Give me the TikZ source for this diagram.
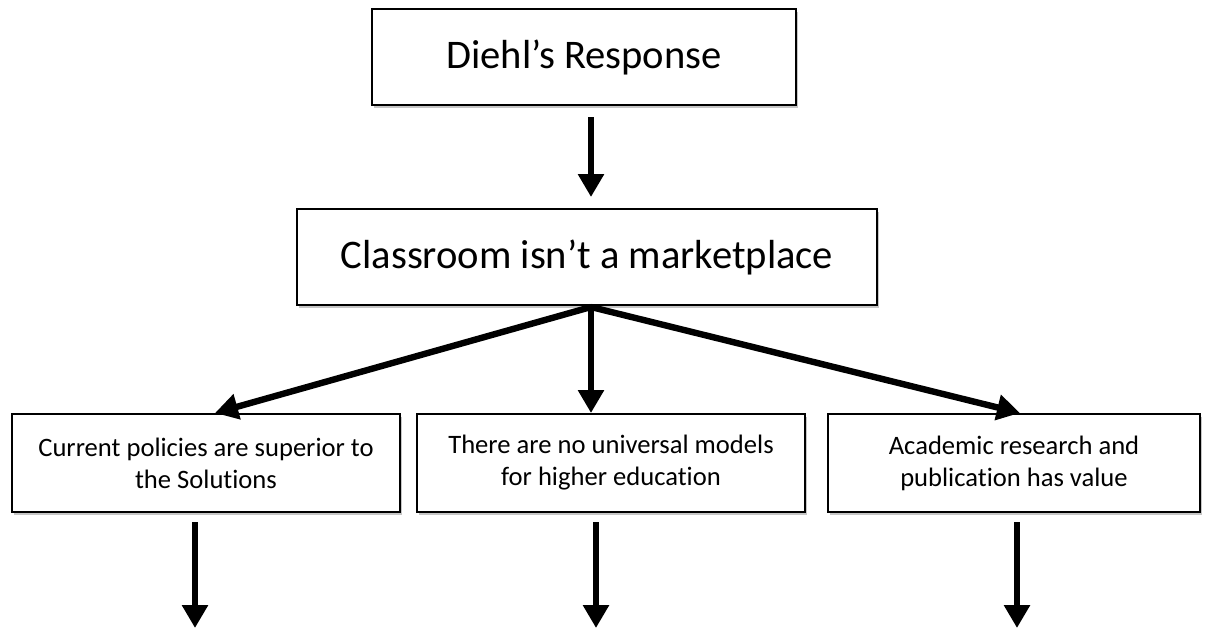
\documentclass[tikz,border=0pt]{standalone}
\usepackage{fontspec}
\setmainfont[Ligatures=NoCommon]{Carlito}
\usepackage{tikz}
\usetikzlibrary{arrows.meta}
\usetikzlibrary{shadows}

\tikzset{
	headbox/.style={draw,line width=1.3pt,fill=white,minimum height=48pt,
		drop shadow={opacity=0.45,shadow xshift=0.8pt,shadow yshift=-1.5pt},
		font=\fontsize{20.3}{24}\selectfont},
	subbox/.style={draw,line width=1.3pt,fill=white,minimum height=49pt,
		minimum width=194pt,align=center,
		drop shadow={opacity=0.45,shadow xshift=0.8pt,shadow yshift=-1.5pt},
		font=\fontsize{13.3}{16}\selectfont},
	fat/.style={line width=3.2pt,-{Triangle[width=12.5pt,length=11.5pt]}}
}

\begin{document}
\begin{tikzpicture}[x=0.5pt,y=-0.5pt]
			\useasboundingbox (0,0) rectangle (1211,628);
			
			\node[headbox,minimum width=212pt] (resp) at (584,57) {Diehl’s Response};
			\node[headbox,minimum width=290pt] (market) at (587,257) {Classroom isn’t a marketplace};
			
			\node[subbox] (policy) at (206,463) {Current policies are superior to\\the Solutions};
			\node[subbox] (model) at (611,463) {There are no universal models\\for higher education};
			\node[subbox,minimum width=186pt] (research) at (1014,463) {Academic research and\\publication has value};
			
			\coordinate (hub) at (591,307);
			\coordinate (t1) at (591,117);
			\coordinate (t2) at (591,197);
			\coordinate (pin) at (215,413);
			\coordinate (min) at (591,413);
			\coordinate (rin) at (1020,413);
			
			\coordinate (pout) at (195,522);
			\coordinate (mout) at (596,522);
			\coordinate (rout) at (1017,522);
			\coordinate (pend) at (195,628);
			\coordinate (mend) at (596,628);
			\coordinate (rend) at (1017,628);
			
			\draw[fat] (t1) to (t2);
			\draw[fat] (hub) to (pin);
			\draw[fat] (hub) to (min);
			\draw[fat] (hub) to (rin);
			
			\draw[fat] (pout) to (pend);
			\draw[fat] (mout) to (mend);
			\draw[fat] (rout) to (rend);
		\end{tikzpicture}
\end{document}
